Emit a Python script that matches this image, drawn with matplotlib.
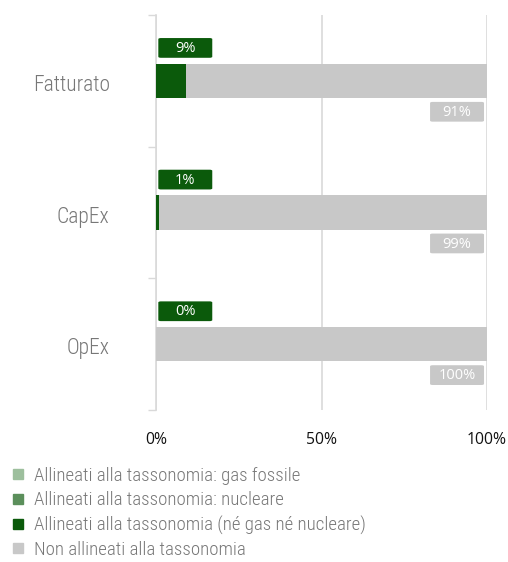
import matplotlib
matplotlib.use("Agg")
import matplotlib.pyplot as plt
from matplotlib.patches import FancyBboxPatch
from matplotlib.lines import Line2D

categories = ["Fatturato", "CapEx", "OpEx"]
aligned = [9, 1, 0]
not_aligned = [91, 99, 100]
xticks = [0, 50, 100]
xtick_labels = ["0%", "50%", "100%"]
legend_labels = [
    "Allineati alla tassonomia: gas fossile",
    "Allineati alla tassonomia: nucleare",
    "Allineati alla tassonomia (né gas né nucleare)",
    "Non allineati alla tassonomia",
]
legend_colors = ["#9dbf9d", "#5b8f5b", "#0b5a0b", "#c8c8c8"]

COND = ["Roboto Condensed", "Liberation Sans Narrow", "DejaVu Sans Condensed", "Lato", "DejaVu Sans"]
plt.rcParams["font.family"] = ["Open Sans", "DejaVu Sans"]

fig = plt.figure(figsize=(5.08, 5.62), dpi=100)
ax = fig.add_axes([156 / 508, 1 - 410 / 562, (487 - 156) / 508, (410 - 15) / 562])

ys = list(range(len(categories)))
green = "#0b5a0b"
grey = "#c8c8c8"
h = 0.26
ax.barh(ys, aligned, height=h, color=green, zorder=3)
ax.barh(ys, not_aligned, left=aligned, height=h, color=grey, zorder=3)

ax.set_xlim(0, 100)
ax.set_ylim(2.5, -0.5)

bw = 16.3
bh = 0.15
for y, a, n in zip(ys, aligned, not_aligned):
    cy = y - 0.25
    ax.add_patch(FancyBboxPatch((0.7, cy - bh / 2), bw, bh,
                                boxstyle="round,pad=0,rounding_size=0.8",
                                mutation_aspect=0.01,
                                fc=green, ec="none", zorder=4, clip_on=False))
    ax.text(0.7 + bw / 2, cy + 0.005, f"{a}%", color="white", fontsize=10.5,
            ha="center", va="center", zorder=5)
    cy2 = y + 0.235
    ax.add_patch(FancyBboxPatch((82.8, cy2 - bh / 2), bw, bh,
                                boxstyle="round,pad=0,rounding_size=0.8",
                                mutation_aspect=0.01,
                                fc=grey, ec="none", zorder=4, clip_on=False))
    ax.text(82.8 + bw / 2, cy2 + 0.005, f"{n}%", color="white", fontsize=10.5,
            ha="center", va="center", zorder=5)

ax.set_xticks(xticks)
ax.set_xticklabels(xtick_labels, fontsize=11.3, color="#111111")
ax.tick_params(axis="x", length=0, pad=16)
ax.grid(axis="x", color="#d9d9d9", linewidth=1.2, zorder=0)

ax.set_yticks([-0.5, 0.5, 1.5, 2.5])
ax.set_yticklabels([])
ax.tick_params(axis="y", length=6, color="#d9d9d9", width=1)
for y, c in zip(ys, categories):
    ax.text(-0.14, y + 0.035, c, transform=ax.get_yaxis_transform(), ha="right", va="center",
            fontsize=15.5, color="#777777", family=COND, weight="light")

for s in ["top", "right", "bottom"]:
    ax.spines[s].set_visible(False)
ax.spines["left"].set_color("#d9d9d9")
ax.spines["left"].set_linewidth(1.2)

handles = [Line2D([0], [0], marker="s", linestyle="none", markersize=7.5,
                  markerfacecolor=c, markeredgecolor=c) for c in legend_colors]
leg = fig.legend(handles, legend_labels, loc="upper left",
                 bbox_to_anchor=(9 / 508, 1 - 467 / 562), frameon=False,
                 prop={"family": COND, "size": 13.6, "weight": "light"},
                 labelcolor="#777777",
                 handletextpad=0.45, labelspacing=0.33, handlelength=0.9,
                 borderaxespad=0, borderpad=0)

fig.savefig("out.png", dpi=100)
